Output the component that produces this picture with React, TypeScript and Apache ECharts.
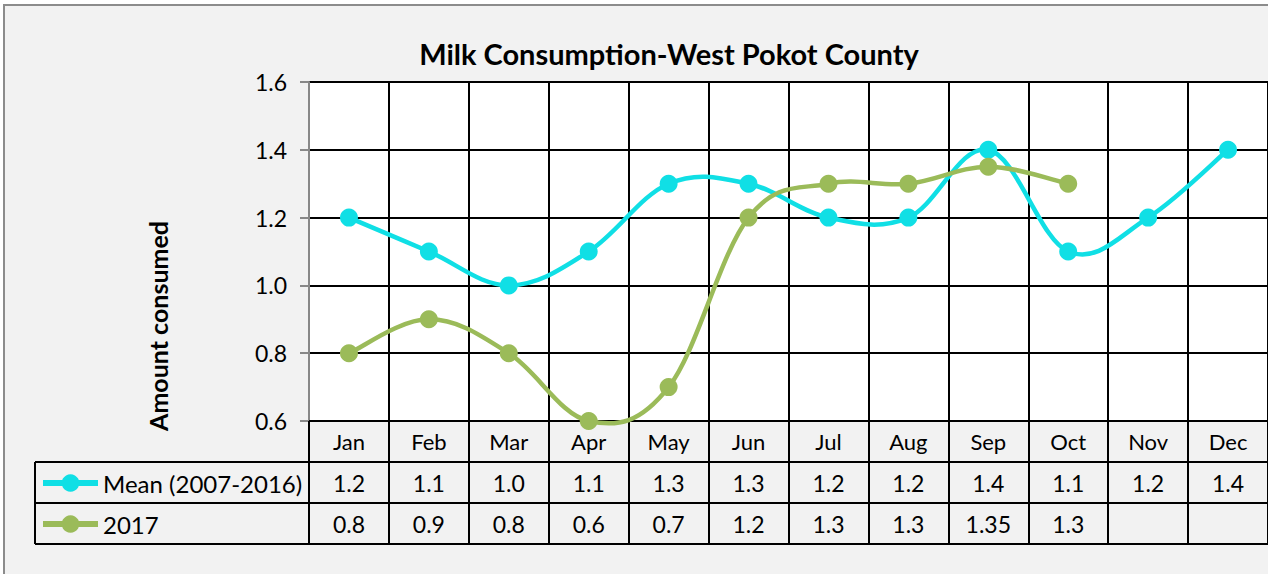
import React, { useEffect, useRef } from "react";
import * as echarts from "echarts";

const months = ["Jan", "Feb", "Mar", "Apr", "May", "Jun", "Jul", "Aug", "Sep", "Oct", "Nov", "Dec"];
const meanValues: (number | null)[] = [1.2, 1.1, 1.0, 1.1, 1.3, 1.3, 1.2, 1.2, 1.4, 1.1, 1.2, 1.4];
const values2017: (number | null)[] = [0.8, 0.9, 0.8, 0.6, 0.7, 1.2, 1.3, 1.3, 1.35, 1.3, null, null];
const seriesNames = ["Mean (2007-2016)", "2017"];
const yMin = 0.6;
const yMax = 1.6;
const yStep = 0.2;

const FONT = "Lato, 'Open Sans', sans-serif";
const CYAN = "#10dfe5";
const GREEN = "#9bbb59";
const TENSION = 0.18;

const fmt = (v: number | null) =>
  v === null ? "" : Math.abs(v * 10 - Math.round(v * 10)) < 1e-9 ? v.toFixed(1) : String(v);

// Excel-like smooth curve drawn through the chart's own coordinate system
const curveSeries = (name: string, vals: (number | null)[], color: string, z: number) => ({
  name,
  type: "custom",
  z,
  silent: true,
  data: vals.map((v, i) => [i, v]).filter((d) => d[1] !== null),
  renderItem: (params: any, api: any) => {
    if (params.dataIndex !== 0) return null;
    const pts: number[][] = [];
    vals.forEach((v, i) => {
      if (v !== null) pts.push(api.coord([i, v]));
    });
    if (pts.length < 2) return null;
    let d = `M${pts[0][0]},${pts[0][1]}`;
    for (let i = 0; i < pts.length - 1; i++) {
      const p0 = pts[Math.max(i - 1, 0)];
      const p1 = pts[i];
      const p2 = pts[i + 1];
      const p3 = pts[Math.min(i + 2, pts.length - 1)];
      const c1x = p1[0] + (p2[0] - p0[0]) * TENSION;
      const c1y = p1[1] + (p2[1] - p0[1]) * TENSION;
      const c2x = p2[0] - (p3[0] - p1[0]) * TENSION;
      const c2y = p2[1] - (p3[1] - p1[1]) * TENSION;
      d += ` C${c1x},${c1y} ${c2x},${c2y} ${p2[0]},${p2[1]}`;
    }
    return {
      type: "path",
      shape: { pathData: d },
      style: { stroke: color, lineWidth: 4.5, fill: "none", lineCap: "round", lineJoin: "round" },
    };
  },
});

export default function App() {
  const ref = useRef<HTMLDivElement>(null);
  useEffect(() => {
    if (!ref.current) return;
    const chart = echarts.init(ref.current, undefined, { renderer: "svg" });
    const left = 309;
    const top = 82;
    const width = 960;
    const height = 339;
    const rowH = 41;
    const idx = months.map((_, i) => String(i));
    const tableAxis = (vals: (number | null)[], n: number) => ({
      type: "category",
      gridIndex: 0,
      position: "bottom",
      offset: rowH * n,
      data: idx,
      axisLine: { show: false },
      axisTick: { show: false },
      splitLine: { show: false },
      axisLabel: {
        interval: 0,
        margin: 9,
        fontSize: 23,
        fontFamily: FONT,
        color: "#000",
        formatter: (_: string, i: number) => fmt(vals[i]),
      },
    });
    const bottomY = top + height;
    const tableLine = (y: number, x1: number) => ({
      type: "line",
      shape: { x1, y1: y, x2: left + width, y2: y },
      style: { stroke: "#000", lineWidth: 2 },
      z: 50,
    });
    chart.setOption({
      animation: false,
      backgroundColor: "#ffffff",
      grid: {
        left,
        top,
        width,
        height,
        show: true,
        backgroundColor: "#ffffff",
        borderWidth: 0,
      },
      title: {
        text: "Milk Consumption-West Pokot County",
        left: 664,
        top: 34,
        textAlign: "center",
        textStyle: { fontFamily: FONT, fontWeight: "bold", fontSize: 29, color: "#000" },
      },
      legend: {
        orient: "vertical",
        left: 40,
        top: 471,
        padding: 0,
        itemWidth: 55,
        itemHeight: 22,
        itemGap: 17,
        lineStyle: { width: 6, opacity: 1 },
        textStyle: { fontFamily: FONT, fontSize: 24, color: "#000", lineHeight: 24 },
        data: seriesNames,
      },
      xAxis: [
        {
          type: "category",
          data: months,
          boundaryGap: true,
          axisLine: { show: true, lineStyle: { color: "#000", width: 2 } },
          axisTick: { show: true, interval: 0, length: rowH * 3, lineStyle: { color: "#000", width: 2 } },
          splitLine: { show: true, interval: 0, lineStyle: { color: "#000", width: 2 } },
          axisLabel: { interval: 0, margin: 9, fontSize: 22, fontFamily: FONT, color: "#000" },
        },
        tableAxis(meanValues, 1),
        tableAxis(values2017, 2),
      ],
      yAxis: {
        type: "value",
        min: yMin,
        max: yMax,
        interval: yStep,
        axisLine: { show: true, lineStyle: { color: "#888", width: 2 } },
        axisTick: { show: true, length: 9, lineStyle: { color: "#888", width: 2 } },
        splitLine: { show: true, lineStyle: { color: "#000", width: 2 } },
        axisLabel: {
          margin: 22,
          fontSize: 23,
          fontFamily: FONT,
          color: "#000",
          formatter: (v: number) => v.toFixed(1),
        },
      },
      graphic: [
        {
          type: "rect",
          shape: { x: 4, y: 5, width: 1400, height: 700 },
          style: { fill: "#f2f2f2", stroke: "#8c8c8c", lineWidth: 2 },
          z: -100,
          silent: true,
        },
        {
          type: "text",
          x: 158,
          y: 326,
          rotation: Math.PI / 2,
          style: {
            text: "Amount consumed",
            fontFamily: FONT,
            fontWeight: "bold",
            fontSize: 25,
            fill: "#000",
            align: "center",
            verticalAlign: "middle",
          },
        },
        tableLine(bottomY + rowH, 35),
        tableLine(bottomY + rowH * 2, 35),
        tableLine(bottomY + rowH * 3, 35),
        {
          type: "line",
          shape: { x1: 35, y1: bottomY + rowH, x2: 35, y2: bottomY + rowH * 3 },
          style: { stroke: "#000", lineWidth: 2 },
          z: 50,
        },
      ],
      series: [
        curveSeries("_meanCurve", meanValues, CYAN, 2),
        {
          name: seriesNames[0],
          type: "line",
          data: meanValues,
          symbol: "circle",
          symbolSize: 18,
          color: CYAN,
          lineStyle: { width: 4, color: CYAN, opacity: 0 },
          itemStyle: { color: CYAN },
          z: 3,
        },
        curveSeries("_curve2017", values2017, GREEN, 4),
        {
          name: seriesNames[1],
          type: "line",
          data: values2017,
          symbol: "circle",
          symbolSize: 18,
          color: GREEN,
          lineStyle: { width: 4, color: GREEN, opacity: 0 },
          itemStyle: { color: GREEN },
          z: 5,
        },
      ],
    });
    return () => chart.dispose();
  }, []);
  return (
    <div
      ref={ref}
      style={{ position: "absolute", left: 0, top: 0, width: 1268, height: 574 }}
    />
  );
}
